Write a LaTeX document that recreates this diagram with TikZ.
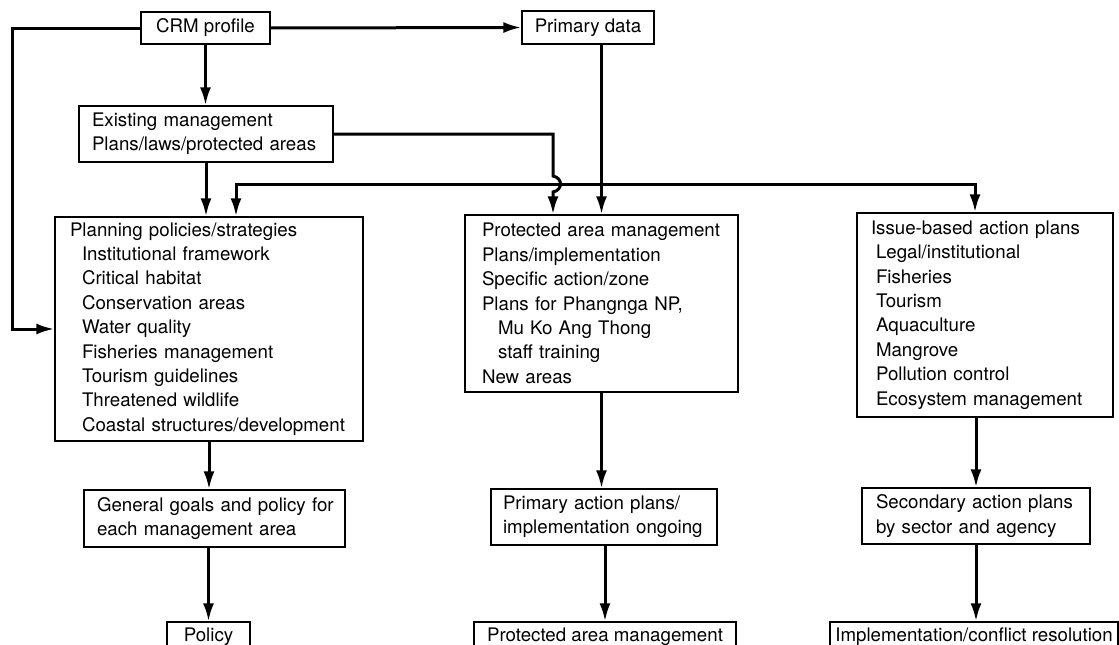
\documentclass[tikz,border=0pt]{standalone}
\usepackage{fontspec}
\setmainfont{TeX Gyre Heros}
\usepackage{tikz}
\usetikzlibrary{positioning,calc,arrows.meta}

\tikzset{
  box/.style={draw, line width=1.3pt, align=left, inner ysep=0pt,
    font=\fontsize{18.7}{24.4}\selectfont},
  flow/.style={line width=3pt, -{Latex[length=18pt,width=11pt]}},
  flowboth/.style={line width=3pt, {Latex[length=18pt,width=11pt]}-{Latex[length=18pt,width=11pt]}},
}

\begin{document}
\begin{tikzpicture}[x=1pt,y=-1pt]
  \useasboundingbox (0,0) rectangle (1119,645);
  \node[box, align=center, minimum width=129pt, minimum height=32pt] (crm) at (205.5,28) {CRM profile};
  \node[box, align=center, minimum width=132pt, minimum height=33pt] (prim) at (588,27.5) {Primary data};
  \node[box, inner xsep=13pt, text width=228pt, minimum height=56pt] (exist) at (206,134)
    {Existing management\\Plans/laws/protected areas};
  \node[box, inner xsep=15pt, text width=278pt, minimum height=224pt] (plan) at (209,329)
    {Planning policies/strategies\\
     \hspace*{12pt}Institutional framework\\
     \hspace*{12pt}Critical habitat\\
     \hspace*{12pt}Conservation areas\\
     \hspace*{12pt}Water quality\\
     \hspace*{12pt}Fisheries management\\
     \hspace*{12pt}Tourism guidelines\\
     \hspace*{12pt}Threatened wildlife\\
     \hspace*{12pt}Coastal structures/development};
  \node[box, inner xsep=17pt, text width=239pt, minimum height=177pt] (prot) at (601.5,303.5)
    {Protected area management\\
     Plans/implementation\\
     Specific action/zone\\
     Plans for Phangnga NP,\\
     \hspace*{16pt}Mu Ko Ang Thong\\
     \hspace*{16pt}staff training\\
     New areas};
  \node[box, inner xsep=14pt, text width=228pt, minimum height=204pt] (issue) at (985,315)
    {Issue-based action plans\\
     \hspace*{5pt}Legal/institutional\\
     \hspace*{5pt}Fisheries\\
     \hspace*{5pt}Tourism\\
     \hspace*{5pt}Aquaculture\\
     \hspace*{5pt}Mangrove\\
     \hspace*{5pt}Pollution control\\
     \hspace*{5pt}Ecosystem management};
  \node[box, inner xsep=13pt, text width=235pt, minimum height=57pt] (goals) at (214.5,518.5)
    {\mbox{General goals and policy for}\\each management area};
  \node[box, inner xsep=12pt, text width=202pt, minimum height=56pt] (act) at (604,517)
    {\mbox{Primary action plans/}\\\mbox{implementation ongoing}};
  \node[box, inner xsep=14pt, text width=200pt, minimum height=56pt] (second) at (976,516)
    {\mbox{Secondary action plans}\\\mbox{by sector and agency}};
  \node[box, align=center, minimum width=83pt, minimum height=30pt] (policy) at (208.5,637) {Policy};
  \node[box, align=center, minimum width=262pt, minimum height=30pt] (pam) at (605,637) {Protected area management};
  \node[box, align=center, minimum width=288pt, minimum height=30pt] (impl) at (974,637) {Implementation/conflict resolution};

  \coordinate (barL) at (236,184);
  \coordinate (barR) at (975,184);
  \coordinate (hop) at (553,184);

  \draw[flow] (crm.east) -- (prim.west);
  \draw[flow] (crm.west) -- ++(-128,0) |- (plan.west);
  \draw[flow] (crm.south) -- (crm.south |- exist.north);
  \draw[flow] (exist.south) -- (exist.south |- plan.north);
  \draw[flowboth] (barL |- plan.north) -- (barL) -- (barR) -- (barR |- issue.north);
  \draw[flow] (exist.east) -| ($(hop)+(0,-8)$)
    .. controls ($(hop)+(10,-6)$) and ($(hop)+(10,6)$) .. ($(hop)+(0,8)$) -- (hop |- prot.north);
  \draw[flow] (prot.north |- prim.south) -- (prot.north);
  \draw[flow] (plan.south) -- (plan.south |- goals.north);
  \draw[flow] (policy.north |- goals.south) -- (policy.north);
  \draw[flow] (prot.south) -- (prot.south |- act.north);
  \draw[flow] (pam.north |- act.south) -- (pam.north);
  \draw[flow] (second.north |- issue.south) -- (second.north);
  \draw[flow] (second.south) -- (second.south |- impl.north);
\end{tikzpicture}
\end{document}
